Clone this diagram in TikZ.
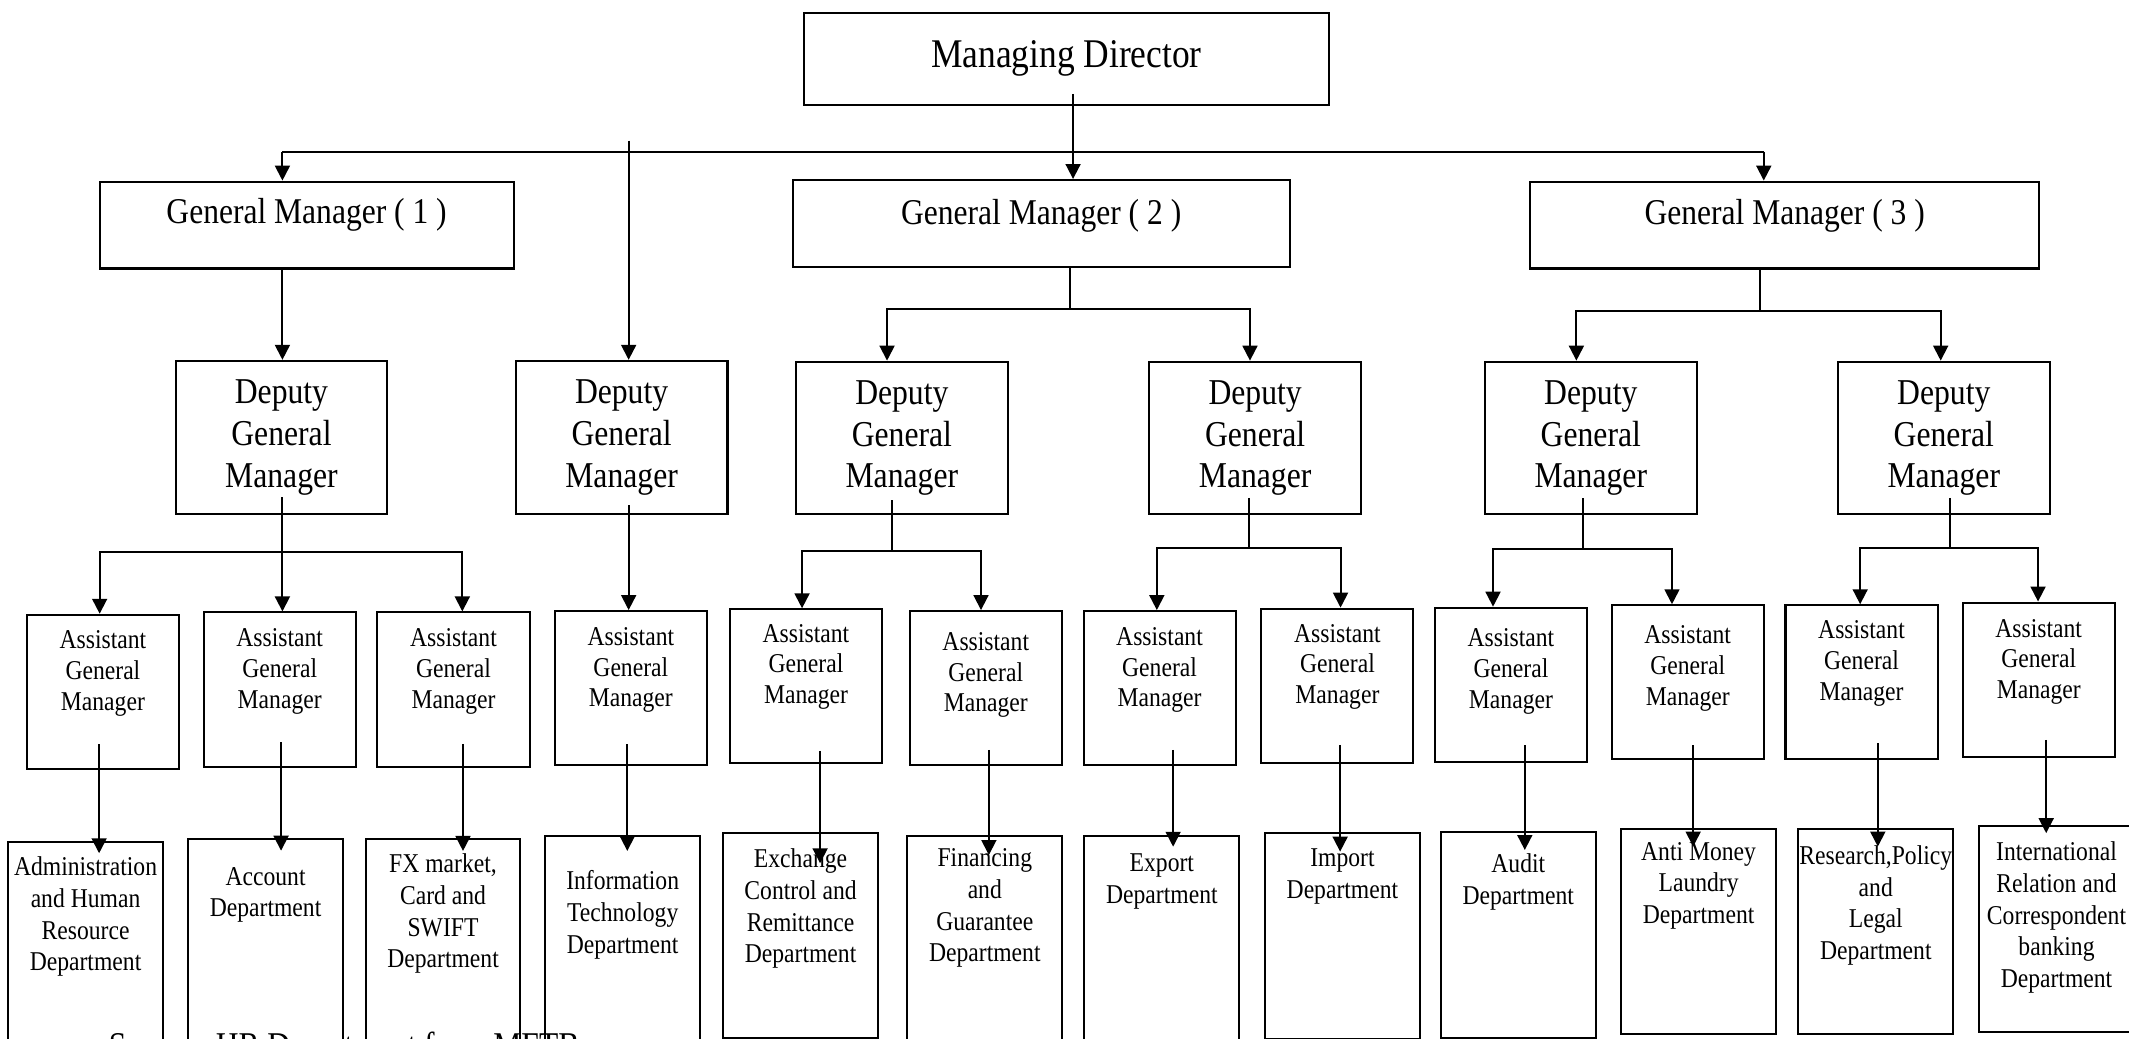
\documentclass[tikz,border=0pt]{standalone}
\usepackage{fontspec}
\setmainfont{Liberation Serif}[FakeStretch=0.87]
\usetikzlibrary{arrows.meta,calc}

\begin{document}
\begin{tikzpicture}[x=1pt,y=-1pt,
    box/.style={rectangle,draw=black,fill=white,line width=1.5pt,inner sep=0pt,anchor=north},
    txt/.style={anchor=north,align=center,inner sep=0pt},
    md/.style={box,minimum width=387pt,minimum height=68pt,font=\fontsize{30}{34}\selectfont},
    gm/.style={box,minimum height=64pt},
    gmtxt/.style={txt,font=\fontsize{26.7}{30}\selectfont},
    dgm/.style={box,minimum width=156pt,minimum height=112.5pt,align=center,font=\fontsize{26.8}{30.8}\selectfont},
    agm/.style={box,minimum width=112pt,minimum height=113.5pt},
    agmtxt/.style={txt,font=\fontsize{20}{22.6}\selectfont},
    dep/.style={box,minimum width=114pt,minimum height=170pt},
    deptxt/.style={txt,font=\fontsize{20}{23.3}\selectfont},
    link/.style={line width=1.4pt},
    arr/.style={link,-{Triangle[length=11pt,width=11pt]}},
    ]
    \useasboundingbox (0,0) rectangle (1568,765);
    \clip (0,0) rectangle (1568,765);

    % top two levels
    \node[md] (MD) at (785.4,8.6) {Managing Director};
    \node[gm,minimum width=305pt,label={[gmtxt,yshift=-13.2pt]north:General Manager ( 1 )}] (GM1) at (225.8,133) {};
    \node[gm,minimum width=366pt,label={[gmtxt,yshift=-14.5pt]north:General Manager ( 2 )}] (GM2) at (766.8,131.8) {};
    \node[gm,minimum width=375pt,label={[gmtxt,yshift=-13.3pt]north:General Manager ( 3 )}] (GM3) at (1314.4,133) {};

    % deputies
    \node[dgm] (DGM1) at (207.3,265) {Deputy\\General\\Manager};
    \node[dgm] (DGM2) at (457.8,265) {Deputy\\General\\Manager};
    \node[dgm] (DGM3) at (664.2,265.6) {Deputy\\General\\Manager};
    \node[dgm] (DGM4) at (924.4,265.6) {Deputy\\General\\Manager};
    \node[dgm] (DGM5) at (1171.6,265.6) {Deputy\\General\\Manager};
    \node[dgm] (DGM6) at (1431.6,265.6) {Deputy\\General\\Manager};

    % assistants
    \node[agm,label={[agmtxt,yshift=-12.4pt]north:Assistant\\General\\Manager}] (AGM1) at (75.8,452) {};
    \node[agm,label={[agmtxt,yshift=-12.7pt]north:Assistant\\General\\Manager}] (AGM2) at (206,450.3) {};
    \node[agm,label={[agmtxt,yshift=-12.7pt]north:Assistant\\General\\Manager}] (AGM3) at (334,450.3) {};
    \node[agm,label={[agmtxt,yshift=-12.7pt]north:Assistant\\General\\Manager}] (AGM4) at (464.6,449.3) {};
    \node[agm,label={[agmtxt,yshift=-11.4pt]north:Assistant\\General\\Manager}] (AGM5) at (593.6,448) {};
    \node[agm,label={[agmtxt,yshift=-16.3pt]north:Assistant\\General\\Manager}] (AGM6) at (726,449.3) {};
    \node[agm,label={[agmtxt,yshift=-12.7pt]north:Assistant\\General\\Manager}] (AGM7) at (854,449.3) {};
    \node[agm,label={[agmtxt,yshift=-12pt]north:Assistant\\General\\Manager}] (AGM8) at (985,447.5) {};
    \node[agm,label={[agmtxt,yshift=-16.2pt]north:Assistant\\General\\Manager}] (AGM9) at (1112.8,446.8) {};
    \node[agm,label={[agmtxt,yshift=-15.7pt]north:Assistant\\General\\Manager}] (AGM10) at (1243,445) {};
    \node[agm,label={[agmtxt,yshift=-12pt]north:Assistant\\General\\Manager}] (AGM11) at (1371,445) {};
    \node[agm,label={[agmtxt,yshift=-12.8pt]north:Assistant\\General\\Manager}] (AGM12) at (1501.5,443) {};

    % departments
    \node[dep,label={[deptxt,yshift=-11.6pt]north:Administration\\and Human\\Resource\\Department}] (D1) at (63,619.4) {};
    \node[dep,label={[deptxt,yshift=-21.6pt]north:Account\\Department}] (D2) at (195.6,617) {};
    \node[dep,label={[deptxt,yshift=-11.7pt]north:{FX market,\\Card and\\SWIFT\\Department}}] (D3) at (326.3,617) {};
    \node[dep,label={[deptxt,yshift=-26pt]north:Information\\Technology\\Department}] (D4) at (458.6,615) {};
    \node[dep,minimum height=151pt,label={[deptxt,yshift=-12pt]north:Exchange\\Control and\\Remittance\\Department}] (D5) at (589.6,613) {};
    \node[dep,label={[deptxt,yshift=-10pt]north:Financing\\and\\Guarantee\\Department}] (D6) at (725.3,615) {};
    \node[dep,label={[deptxt,yshift=-13.8pt]north:Export\\Department}] (D7) at (855.7,615) {};
    \node[dep,minimum height=152pt,label={[deptxt,yshift=-12.5pt]north:Import\\Department}] (D8) at (988.7,612.5) {};
    \node[dep,minimum height=152pt,label={[deptxt,yshift=-17pt]north:Audit\\Department}] (D9) at (1118.2,611.8) {};
    \node[dep,minimum height=151.5pt,label={[deptxt,yshift=-10.5pt]north:Anti Money\\Laundry\\Department}] (D10) at (1251,609.5) {};
    \node[dep,minimum height=151.5pt,label={[deptxt,yshift=-13.2pt]north:{Research,Policy\\and\\Legal\\Department}}] (D11) at (1381.5,609.5) {};
    \node[dep,minimum height=151.4pt,label={[deptxt,yshift=-12.4pt]north:International\\Relation and\\Correspondent\\banking\\Department}] (D12) at (1514.6,607.6) {};

    % source line, cut by the lower edge
    \node[anchor=base west,inner sep=0pt,font=\fontsize{26.7}{30}\selectfont] (src) at (80,779) {Source: HR Department from MFTB};

    % managing director to general managers
    \coordinate (busL) at (208,111.7);
    \coordinate (busR) at (1299,111.7);
    \coordinate (dtop) at (463,103.6);
    \draw[link] (busL) -- (busR);
    \draw[arr] (busL) -- (busL |- GM1.north);
    \draw[arr] (busR) -- (busR |- GM3.north);
    \draw[arr] ($(MD.south)+(4.9,-9)$) -- ($(MD.south |- GM2.north)+(4.9,0)$);
    \draw[arr] (dtop) -- (dtop |- DGM2.north);

    % general managers to deputies
    \draw[arr] (busL |- GM1.south) -- (busL |- DGM1.north);
    \draw[link] ($(GM2.south)+(21.2,0)$) -- ++(0,30.3) coordinate (b2);
    \draw[arr] (b2) -| ($(DGM3.north)+(-10.9,0)$);
    \draw[arr] (b2) -| ($(DGM4.north)+(-3.8,0)$);
    \draw[link] ($(GM3.south)+(-18.4,0)$) -- ++(0,30.6) coordinate (b3);
    \draw[arr] (b3) -| ($(DGM5.north)+(-10.6,0)$);
    \draw[arr] (b3) -| ($(DGM6.north)+(-2.3,0)$);

    % deputies to assistants
    \draw[link] ($(DGM1.south)+(0.7,-12.7)$) -- ++(0,40.2) coordinate (c1);
    \draw[arr] (c1) -| ($(AGM1.north)+(-2.4,0)$);
    \draw[arr] (c1) -- (c1 |- AGM2.north);
    \draw[arr] (c1) -| ($(AGM3.north)+(6.5,0)$);
    \draw[arr] ($(DGM2.south)+(5.2,-7)$) -- ($(DGM2.south |- AGM4.north)+(5.2,0)$);
    \draw[link] ($(DGM3.south)+(-7.2,-11.2)$) -- ++(0,37.6) coordinate (c3);
    \draw[arr] (c3) -| ($(AGM5.north)+(-2.9,0)$);
    \draw[arr] (c3) -| ($(AGM6.north)+(-3.5,0)$);
    \draw[link] ($(DGM4.south)+(-4.4,-13)$) -- ++(0,37) coordinate (c4);
    \draw[arr] (c4) -| ($(AGM7.north)+(-2,0)$);
    \draw[arr] (c4) -| ($(AGM8.north)+(2.3,0)$);
    \draw[link] ($(DGM5.south)+(-6,-12.7)$) -- ++(0,37.7) coordinate (c5);
    \draw[arr] (c5) -| ($(AGM9.north)+(-13.2,0)$);
    \draw[arr] (c5) -| ($(AGM10.north)+(-11.6,0)$);
    \draw[link] ($(DGM6.south)+(4.4,-13)$) -- ++(0,37) coordinate (c6);
    \draw[arr] (c6) -| ($(AGM11.north)+(-1,0)$);
    \draw[arr] (c6) -| ($(AGM12.north)+(-0.5,0)$);

    % assistants to departments
    \draw[arr] ($(AGM1.south)+(-2.8,-19)$) -- ($(AGM1.south |- D1.north)+(-2.8,9)$);
    \draw[arr] ($(AGM2.south)+(1,-18.5)$) -- ($(AGM2.south |- D2.north)+(1,9.5)$);
    \draw[arr] ($(AGM3.south)+(7,-17.4)$) -- ($(AGM3.south |- D3.north)+(7,9.7)$);
    \draw[arr] ($(AGM4.south)+(-2.6,-16)$) -- ($(AGM4.south |- D4.north)+(-2.6,11.7)$);
    \draw[arr] ($(AGM5.south)+(10.4,-10)$) -- ($(AGM5.south |- D5.north)+(10.4,22.8)$);
    \draw[arr] ($(AGM6.south)+(2.3,-12)$) -- ($(AGM6.south |- D6.north)+(2.3,14.7)$);
    \draw[arr] ($(AGM7.south)+(10,-12)$) -- ($(AGM7.south |- D7.north)+(10,8.6)$);
    \draw[arr] ($(AGM8.south)+(2,-14)$) -- ($(AGM8.south |- D8.north)+(2,14.7)$);
    \draw[arr] ($(AGM9.south)+(10.2,-13)$) -- ($(AGM9.south |- D9.north)+(10.2,14.2)$);
    \draw[arr] ($(AGM10.south)+(4,-11)$) -- ($(AGM10.south |- D10.north)+(4,14)$);
    \draw[arr] ($(AGM11.south)+(12,-12.5)$) -- ($(AGM11.south |- D11.north)+(12,14)$);
    \draw[arr] ($(AGM12.south)+(5.5,-13)$) -- ($(AGM12.south |- D12.north)+(5.5,6)$);
\end{tikzpicture}
\end{document}
